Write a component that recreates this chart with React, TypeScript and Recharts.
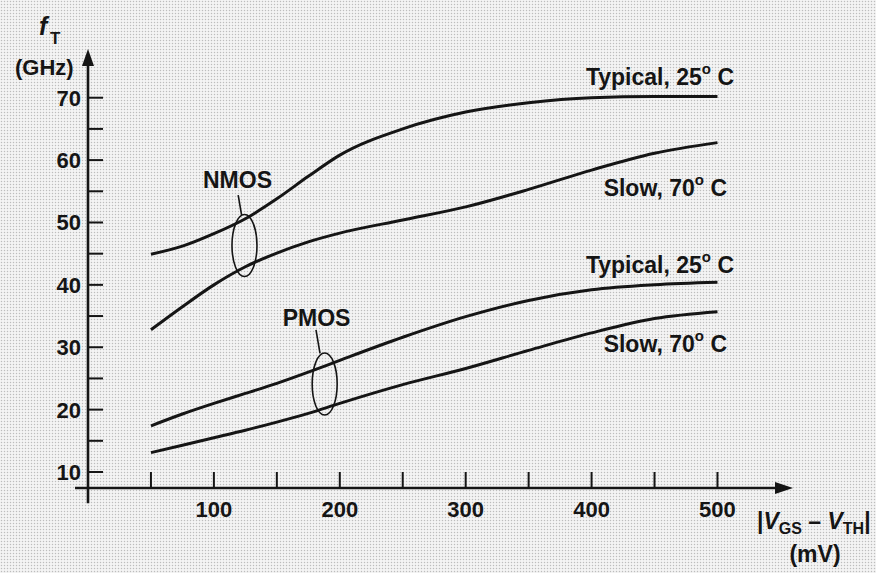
import { Line, LineChart, ReferenceDot, ReferenceLine, XAxis, YAxis } from 'recharts';

// |VGS - VTH| in mV
const vov = [50, 75, 100, 125, 150, 175, 200, 250, 300, 350, 400, 450, 500];
// fT in GHz
const nmosTypical = [44.9, 46.2, 48.2, 50.6, 53.8, 57.4, 60.8, 65.0, 67.7, 69.2, 70.0, 70.2, 70.2];
const nmosSlow = [32.8, 36.5, 40.0, 42.9, 45.1, 46.9, 48.3, 50.4, 52.5, 55.3, 58.4, 61.1, 62.8];
const pmosTypical = [17.4, 19.3, 21.0, 22.6, 24.2, 26.0, 27.9, 31.6, 34.9, 37.5, 39.2, 40.0, 40.4];
const pmosSlow = [13.1, 14.3, 15.5, 16.7, 18.0, 19.4, 21.0, 24.0, 26.6, 29.5, 32.3, 34.6, 35.7];

const xTicks = [50, 100, 150, 200, 250, 300, 350, 400, 450, 500];
const xLabels = [100, 200, 300, 400, 500];
const yTicks = [10, 15, 20, 25, 30, 35, 40, 45, 50, 55, 60, 65, 70];
const yLabels = [10, 20, 30, 40, 50, 60, 70];

const X_DOMAIN: [number, number] = [0, 560];
const Y_DOMAIN: [number, number] = [7.435, 77.81];

const INK = '#151515';
const FONT = '"Liberation Sans", Arial, Helvetica, sans-serif';

const rows = vov.map((v, i) => ({
  v,
  nt: nmosTypical[i],
  ns: nmosSlow[i],
  pt: pmosTypical[i],
  ps: pmosSlow[i],
}));

// axis line sits at y (bottom) / x (left); ticks point inward
const renderXTick = (props: any) => {
  const { x, payload, index } = props;
  const y = 488;
  const val = payload.value;
  return (
    <g key={`xt-${index}`}>
      <line x1={x} x2={x} y1={y - 16} y2={y} stroke={INK} strokeWidth={2} />
      {xLabels.includes(val) && (
        <text x={x} y={y + 29} textAnchor="middle" fontSize={22} fontWeight="bold" fill={INK} fontFamily={FONT}>
          {val}
        </text>
      )}
    </g>
  );
};

const renderYTick = (props: any) => {
  const { y, payload, index } = props;
  const x = 88;
  const val = payload.value;
  return (
    <g key={`yt-${index}`}>
      <line x1={x} x2={x + 15} y1={y} y2={y} stroke={INK} strokeWidth={2} />
      {yLabels.includes(val) && (
        <text x={x - 7} y={y + 8} textAnchor="end" fontSize={22} fontWeight="bold" fill={INK} fontFamily={FONT}>
          {val}
        </text>
      )}
    </g>
  );
};

const ArrowRight = ({ cx, cy }: any) => (
  <path d={`M${cx},${cy} L${cx - 18},${cy - 6} L${cx - 18},${cy + 6} Z`} fill={INK} />
);
const ArrowUp = ({ cx, cy }: any) => (
  <path d={`M${cx},${cy} L${cx - 6},${cy + 17} L${cx + 6},${cy + 17} Z`} fill={INK} />
);
const Ellipse = ({ cx, cy }: any) => (
  <ellipse cx={cx} cy={cy} rx={12.5} ry={31} fill="none" stroke={INK} strokeWidth={1.6} />
);

function Deg({ t }: { t: string }) {
  return (
    <>
      {t}
      <tspan fontSize={15} dy={-11}>o</tspan>
      <tspan dy={11}> C</tspan>
    </>
  );
}

export default function App() {
  const textProps = { fontSize: 23, fontWeight: 'bold' as const, fill: INK, fontFamily: FONT };
  return (
    <div
      style={{
        position: 'fixed',
        left: 0,
        top: 0,
        width: 876,
        height: 573,
        backgroundColor: '#f4f4f4',
        backgroundImage: 'radial-gradient(circle, #bdbdbd 0.75px, transparent 1.05px)',
        backgroundSize: '3px 3px',
      }}
    >
      <LineChart width={876} height={573} data={rows} margin={{ top: 49, right: 83, bottom: 55, left: 28 }}>
        <XAxis
          dataKey="v"
          type="number"
          domain={X_DOMAIN}
          ticks={xTicks}
          interval={0}
          height={30}
          axisLine={false}
          tickLine={false}
          tick={renderXTick}
          allowDataOverflow
        />
        <YAxis
          type="number"
          domain={Y_DOMAIN}
          ticks={yTicks}
          interval={0}
          width={60}
          axisLine={false}
          tickLine={false}
          tick={renderYTick}
          allowDataOverflow
        />
        <ReferenceLine
          segment={[{ x: -10.3, y: Y_DOMAIN[0] }, { x: 552, y: Y_DOMAIN[0] }]}
          stroke={INK}
          strokeWidth={2.6}
          ifOverflow="visible"
        />
        <ReferenceLine
          segment={[{ x: 0, y: 5.0 }, { x: 0, y: 76 }]}
          stroke={INK}
          strokeWidth={2.6}
          ifOverflow="visible"
        />
        <ReferenceDot x={560} y={Y_DOMAIN[0]} shape={<ArrowRight />} ifOverflow="visible" />
        <ReferenceDot x={0} y={Y_DOMAIN[1]} shape={<ArrowUp />} ifOverflow="visible" />

        <Line type="monotone" dataKey="nt" stroke={INK} strokeWidth={3} dot={false} isAnimationActive={false} />
        <Line type="monotone" dataKey="ns" stroke={INK} strokeWidth={3} dot={false} isAnimationActive={false} />
        <Line type="monotone" dataKey="pt" stroke={INK} strokeWidth={3} dot={false} isAnimationActive={false} />
        <Line type="monotone" dataKey="ps" stroke={INK} strokeWidth={3} dot={false} isAnimationActive={false} />

        <ReferenceDot x={124.3} y={46.3} shape={<Ellipse />} ifOverflow="visible" />
        <ReferenceDot x={188} y={24.1} shape={<Ellipse />} ifOverflow="visible" />
        <ReferenceLine segment={[{ x: 119.3, y: 54.4 }, { x: 122, y: 51.2 }]} stroke={INK} strokeWidth={1.6} ifOverflow="visible" />
        <ReferenceLine segment={[{ x: 181.1, y: 32.8 }, { x: 184.3, y: 29.0 }]} stroke={INK} strokeWidth={1.6} ifOverflow="visible" />
      </LineChart>

      <svg width={876} height={573} style={{ position: 'absolute', left: 0, top: 0, pointerEvents: 'none' }}>
        <text x={39} y={35} {...textProps} fontSize={25} fontStyle="italic">f</text>
        <text x={50} y={44} {...textProps} fontSize={17}>T</text>
        <text x={15} y={75} {...textProps} fontSize={22}>(GHz)</text>

        <text x={237.5} y={188} textAnchor="middle" {...textProps}>NMOS</text>
        <text x={316.5} y={326} textAnchor="middle" {...textProps}>PMOS</text>

        <text x={734} y={85} textAnchor="end" {...textProps}><Deg t="Typical, 25" /></text>
        <text x={727} y={196} textAnchor="end" {...textProps}><Deg t="Slow, 70" /></text>
        <text x={734} y={273} textAnchor="end" {...textProps}><Deg t="Typical, 25" /></text>
        <text x={727} y={352} textAnchor="end" {...textProps}><Deg t="Slow, 70" /></text>

        <text x={757} y={529} {...textProps}>
          |<tspan fontStyle="italic">V</tspan>
          <tspan fontSize={16} dy={5}>GS</tspan>
          <tspan dy={-5}> – </tspan>
          <tspan fontStyle="italic">V</tspan>
          <tspan fontSize={16} dy={5}>TH</tspan>
          <tspan dy={-5}>|</tspan>
        </text>
        <text x={815} y={562} textAnchor="middle" {...textProps}>(mV)</text>
      </svg>
    </div>
  );
}
